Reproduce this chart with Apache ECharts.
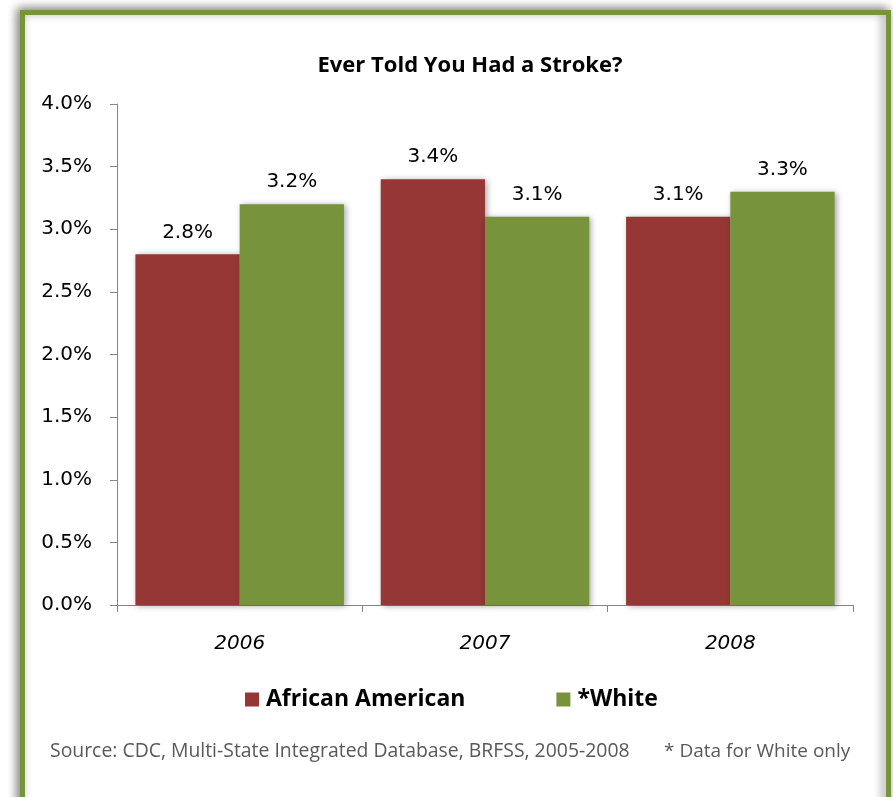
<!DOCTYPE html>
<html>
<head>
<meta charset="utf-8">
<script src="https://cdn.jsdelivr.net/npm/echarts@6/dist/echarts.min.js"></script>
<style>
  html, body { margin: 0; padding: 0; background: #ffffff; }
  #chart { width: 893px; height: 797px; }
</style>
</head>
<body>
<div id="chart"></div>
<script>
// Stroke prevalence by year and group (percent)
const years = ['2006', '2007', '2008'];
const africanAmerican = [2.8, 3.4, 3.1];
const white = [3.2, 3.1, 3.3];
const seriesNames = ['African American', '*White'];
const sourceNote = 'Source: CDC, Multi-State Integrated Database, BRFSS, 2005-2008';
const footNote = '* Data for White only';

const RED = '#953735';
const GREEN = '#77933C';
const HEAD_FONT = '"Open Sans", sans-serif';
const NUM_FONT = '"DejaVu Sans", sans-serif';

const chart = echarts.init(document.getElementById('chart'));

const barShadow = {
  shadowColor: 'rgba(0,0,0,0.35)',
  shadowBlur: 6,
  shadowOffsetX: 2,
  shadowOffsetY: 1
};

const labelStyle = {
  show: true,
  position: 'top',
  distance: 12,
  fontFamily: NUM_FONT,
  fontSize: 20,
  color: '#000',
  formatter: p => p.value.toFixed(1) + '%'
};

chart.setOption({
  backgroundColor: '#ffffff',
  animation: false,
  title: {
    text: 'Ever Told You Had a Stroke?',
    left: 465,
    textAlign: 'center',
    top: 50,
    textStyle: { fontFamily: HEAD_FONT, fontSize: 22, fontWeight: 'bold', color: '#000' }
  },
  grid: { left: 117, right: 40, top: 104, bottom: 192 },
  legend: {
    data: seriesNames,
    left: 240,
    top: 683,
    itemWidth: 14,
    itemHeight: 14,
    itemGap: 91,
    icon: 'rect',
    textStyle: { fontFamily: HEAD_FONT, fontSize: 23, fontWeight: 'bold', color: '#000', padding: [0, 0, 0, 2] }
  },
  xAxis: {
    type: 'category',
    data: years,
    axisLine: { lineStyle: { color: '#868686', width: 1 } },
    axisTick: { show: true, length: 7, lineStyle: { color: '#868686' } },
    axisLabel: { fontFamily: NUM_FONT, fontSize: 20, fontStyle: 'italic', color: '#000', margin: 29 }
  },
  yAxis: {
    type: 'value',
    min: 0,
    max: 4,
    interval: 0.5,
    axisLine: { show: true, lineStyle: { color: '#868686', width: 1 } },
    axisTick: { show: true, length: 7, lineStyle: { color: '#868686' } },
    splitLine: { show: false },
    axisLabel: {
      fontFamily: NUM_FONT,
      fontSize: 20,
      color: '#000',
      margin: 25,
      formatter: v => v.toFixed(1) + '%'
    }
  },
  series: [
    {
      name: seriesNames[0],
      type: 'bar',
      data: africanAmerican,
      barCategoryGap: '15%',
      barGap: '0%',
      itemStyle: Object.assign({ color: RED }, barShadow),
      label: labelStyle
    },
    {
      name: seriesNames[1],
      type: 'bar',
      data: white,
      barCategoryGap: '15%',
      barGap: '0%',
      itemStyle: Object.assign({ color: GREEN }, barShadow),
      label: labelStyle
    }
  ],
  graphic: [
    {
      type: 'rect',
      silent: true,
      z: -10,
      shape: { x: 22.5, y: 12.5, width: 866, height: 800 },
      style: {
        fill: '#ffffff',
        stroke: GREEN,
        lineWidth: 5,
        shadowColor: 'rgba(0,0,0,0.45)',
        shadowBlur: 10,
        shadowOffsetX: -3,
        shadowOffsetY: -2
      }
    },
    {
      type: 'text',
      left: 50,
      top: 742,
      style: { text: sourceNote, fontFamily: HEAD_FONT, fontSize: 19.4, fill: '#595959' }
    },
    {
      type: 'text',
      left: 664,
      top: 742,
      style: { text: footNote, fontFamily: HEAD_FONT, fontSize: 19, fill: '#595959' }
    }
  ]
});
</script>
</body>
</html>
